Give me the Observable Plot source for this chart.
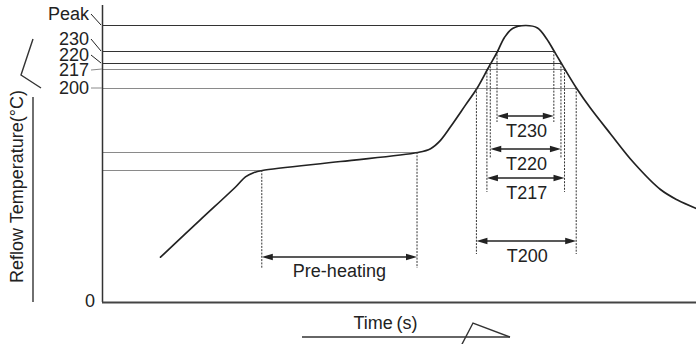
<!DOCTYPE html>
<html><head><meta charset="utf-8">
<script src="https://cdn.jsdelivr.net/npm/d3@7"></script>
<script src="https://cdn.jsdelivr.net/npm/@observablehq/plot@0.6"></script>
<style>
html,body{margin:0;padding:0;background:#fff;}
#chart{width:696px;height:344px;overflow:hidden;}
</style></head><body><div id="chart"></div>
<script>
// ---------- data ----------
const levelNames = ["Peak", "230", "220", "217", "200"];
const levelTemps = [250, 230, 220, 217, 200];
const windowLabels = ["T230", "T220", "T217", "T200"];
const windowLevels = [230, 220, 217, 200];
const windowStart = [199.5, 196.1, 194.4, 189.1];
const windowEnd = [228.2, 231.8, 233.6, 239.5];
const peakTime = 213.6;
const preheatTemps = [150, 180];
const preheatTimes = [80.7, 159.1];
const preheatLabel = "Pre-heating";
const zeroLabel = "0";
const xTitle = "Time\u2009(s)";
const yTitle = "Reflow Temperature(°C)";
const curveTime = [29.3, 49.5, 67.7, 72.2, 76.3, 80.7, 120.2, 159.1, 165.7, 170.7, 177.3, 183.3, 189.1, 194.4, 196.1, 199.5, 203.0, 207.1, 213.6, 219.7, 224.2, 228.2, 231.8, 233.6, 239.5, 246.5, 256.6, 268.2, 281.8, 290.4, 300];
const curveTemp = [51.5, 94.1, 132.4, 142.8, 147.5, 150, 165, 180, 181.2, 183.8, 189.4, 194.8, 200, 217, 220, 230, 240.8, 247.7, 250, 248.1, 240, 230, 220, 217, 200, 193.8, 185.8, 163.3, 128.4, 116.5, 106.8];

// ---------- layout / style ----------
const FONT = "Liberation Sans, Arial, Helvetica, sans-serif";
const INK = "#222";
const GRAY = "#8a8a8a";
const yDomain = [0, 150, 180, 200, 217, 220, 230, 250];
const yRange = [302, 170, 152, 88, 69, 63, 51, 25];   // schematic (not to scale) axis
const labelDy = [-11, -12, -8, 1, 0];                  // tick label offsets from level line
const leaderSlant = [true, true, true, false, false];
const arrowOffset = [65, 86, 109, 153];                // arrow rows below each level line
const dotBelowArrow = [6, 9, 14, 13];

const curve = curveTime.map((t, i) => ({t, v: curveTemp[i]}));
const rows = levelTemps.map((v, i) => ({v, end: i === 0 ? peakTime : windowEnd[windowLevels.indexOf(v)], dark: i < 3}));
const preRows = preheatTemps.map((v, i) => ({v, end: preheatTimes[i]}));

function arrow2(g, xa, xb, yy) {
  g.append("line").attr("x1", xa + 6).attr("x2", xb - 6).attr("y1", yy).attr("y2", yy)
    .attr("stroke", INK).attr("stroke-width", 1.3);
  g.append("path").attr("d", `M${xa},${yy}L${xa + 11},${yy - 3.3}L${xa + 11},${yy + 3.3}Z`).attr("fill", INK);
  g.append("path").attr("d", `M${xb},${yy}L${xb - 11},${yy - 3.3}L${xb - 11},${yy + 3.3}Z`).attr("fill", INK);
}
function dotted(g, xx, ya, yb) {
  g.append("line").attr("x1", xx).attr("x2", xx).attr("y1", ya).attr("y2", yb)
    .attr("stroke", "#333").attr("stroke-width", 1).attr("stroke-dasharray", "2,1.3");
}
function label(g, txt, xx, yc, anchor) {
  g.append("text").attr("x", xx).attr("y", yc).attr("dy", "0.35em")
    .attr("text-anchor", anchor).text(txt);
}

const annotations = (index, scales, values, dims) => {
  const {x, y} = scales;
  const g = d3.create("svg:g").attr("font-family", FONT).attr("font-size", 18).attr("fill", INK);
  const x0 = x(0);
  // tick labels + leaders
  levelTemps.forEach((v, i) => {
    const yl = y(v), yc = yl + labelDy[i];
    label(g, levelNames[i], x0 - 13, yc, "end");
    g.append("line").attr("x1", x0 - 11).attr("y1", yc).attr("x2", leaderSlant[i] ? x0 - 1 : x0).attr("y2", yl)
      .attr("stroke", leaderSlant[i] ? INK : GRAY).attr("stroke-width", 1);
  });
  label(g, zeroLabel, x0 - 7, y(0) - 1, "end");
  // time windows
  windowLevels.forEach((v, i) => {
    const xa = x(windowStart[i]), xb = x(windowEnd[i]);
    const ya = y(v) + arrowOffset[i];
    dotted(g, xa, y(v), ya + dotBelowArrow[i]);
    dotted(g, xb, y(v), ya + dotBelowArrow[i]);
    arrow2(g, xa, xb, ya);
    label(g, windowLabels[i], (xa + xb) / 2 + 1, ya + 15, "middle");
  });
  // pre-heating
  const pa = x(preheatTimes[0]), pb = x(preheatTimes[1]);
  const py = y(0) - 45;
  dotted(g, pa, y(preheatTemps[0]), py + 11);
  dotted(g, pb, y(preheatTemps[1]), py + 11);
  arrow2(g, pa, pb, py);
  label(g, preheatLabel, (pa + pb) / 2, py + 14, "middle");
  // y title with decoration
  g.append("text").attr("transform", `translate(${x0 - 85},${y(0) - 115.5}) rotate(-90)`)
    .attr("dy", "0.35em").attr("text-anchor", "middle").text(yTitle);
  const deco = "#333";
  g.append("line").attr("x1", x0 - 69).attr("x2", x0 - 69).attr("y1", 97).attr("y2", y(0))
    .attr("stroke", deco).attr("stroke-width", 1.4);
  g.append("path").attr("d", `M${x0 - 69},39L${x0 - 81},75L${x0 - 61},88`).attr("fill", "none")
    .attr("stroke", deco).attr("stroke-width", 1.4);
  // x title with decoration
  label(g, xTitle, 385.5, y(0) + 21, "middle");
  g.append("line").attr("x1", 302).attr("x2", 510).attr("y1", y(0) + 35).attr("y2", y(0) + 35)
    .attr("stroke", deco).attr("stroke-width", 1.4);
  g.append("path").attr("d", `M460,${y(0) + 46}L473,${y(0) + 21}L510,${y(0) + 35}`).attr("fill", "none")
    .attr("stroke", deco).attr("stroke-width", 1.4);
  return g.node();
};

const chart = Plot.plot({
  width: 696,
  height: 344,
  marginLeft: 102,
  marginRight: 0,
  marginTop: 5,
  marginBottom: 42,
  style: {background: "#fff", fontFamily: FONT, overflow: "visible"},
  x: {type: "linear", domain: [0, 300], axis: null},
  y: {type: "linear", domain: yDomain, range: yRange, axis: null},
  marks: [
    Plot.ruleY(rows.filter(d => d.dark), {y: "v", x1: 0, x2: "end", stroke: "#333", strokeWidth: 1.1}),
    Plot.ruleY(rows.filter(d => !d.dark), {y: "v", x1: 0, x2: "end", stroke: GRAY, strokeWidth: 1.1}),
    Plot.ruleY(preRows, {y: "v", x1: 0, x2: "end", stroke: GRAY, strokeWidth: 1.1}),
    Plot.line(curve, {x: "t", y: "v", curve: "catmull-rom", stroke: INK, strokeWidth: 1.7}),
    Plot.ruleX([0], {stroke: "#333", strokeWidth: 1.5}),
    Plot.ruleY([0], {stroke: "#444", strokeWidth: 2}),
    annotations
  ]
});
document.getElementById("chart").appendChild(chart);
</script></body></html>
